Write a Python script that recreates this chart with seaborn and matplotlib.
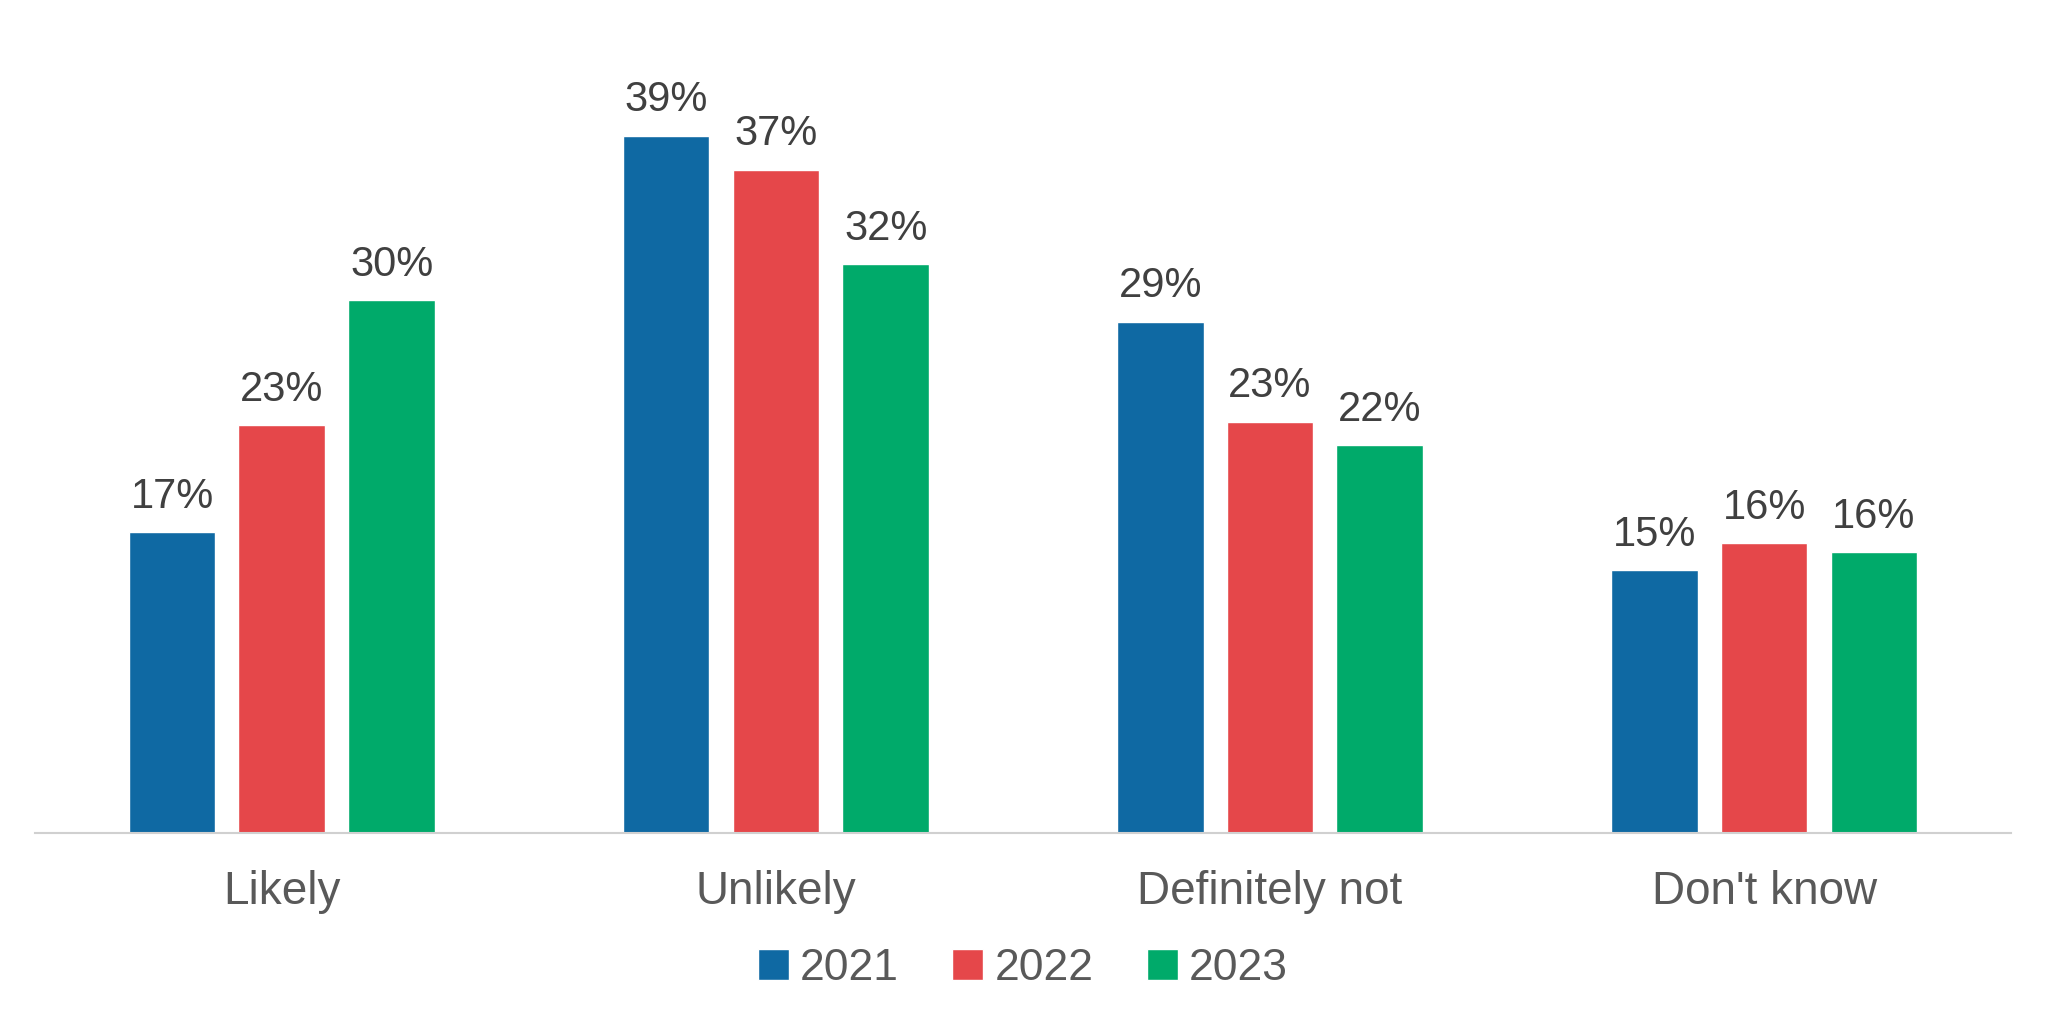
import matplotlib
matplotlib.use("Agg")
import pandas as pd
import seaborn as sns
from matplotlib import pyplot as plt

categories = ["Likely", "Unlikely", "Definitely not", "Don't know"]
years = ["2021", "2022", "2023"]
values_2021 = [16.8, 39.0, 28.6, 14.7]
values_2022 = [22.8, 37.1, 23.0, 16.2]
values_2023 = [29.8, 31.8, 21.7, 15.7]
colors = ["#0F69A3", "#E5474A", "#00AA6A"]

df = pd.DataFrame({
    "category": categories * 3,
    "year": [y for y in years for _ in categories],
    "value": values_2021 + values_2022 + values_2023,
})

sns.set_style("white")
plt.rcParams["font.family"] = ["Liberation Sans", "DejaVu Sans"]

fig = plt.figure(figsize=(20.48, 10.24), dpi=100)
ax = fig.add_axes([0.017, 0.187, 0.965, 0.813])

sns.barplot(data=df, x="category", y="value", hue="year", order=categories,
            hue_order=years, palette=colors, width=0.667, gap=0.21,
            saturation=1, ax=ax)

# percentage labels above each bar
for container in ax.containers:
    ax.bar_label(container, labels=[f"{v:.0f}%" for v in container.datavalues],
                 padding=11, fontsize=30, color="#404040")

ax.set_xlim(-0.5, 3.5)
ax.set_ylim(0, 46.6)
ax.set_xlabel("")
ax.set_ylabel("")
ax.set_yticks([])
for side in ["top", "left", "right"]:
    ax.spines[side].set_visible(False)
ax.spines["bottom"].set_color("#D0D0D0")
ax.spines["bottom"].set_linewidth(1.5)
ax.tick_params(axis="x", length=0, pad=27, labelsize=33, labelcolor="#595959")

ax.legend(loc="center", bbox_to_anchor=(0.5, -0.163), ncol=3, frameon=False,
          fontsize=32, labelcolor="#595959", handlelength=0.7, handleheight=0.7,
          handletextpad=0.25, columnspacing=1.2)

fig.savefig("out.png", dpi=100)
